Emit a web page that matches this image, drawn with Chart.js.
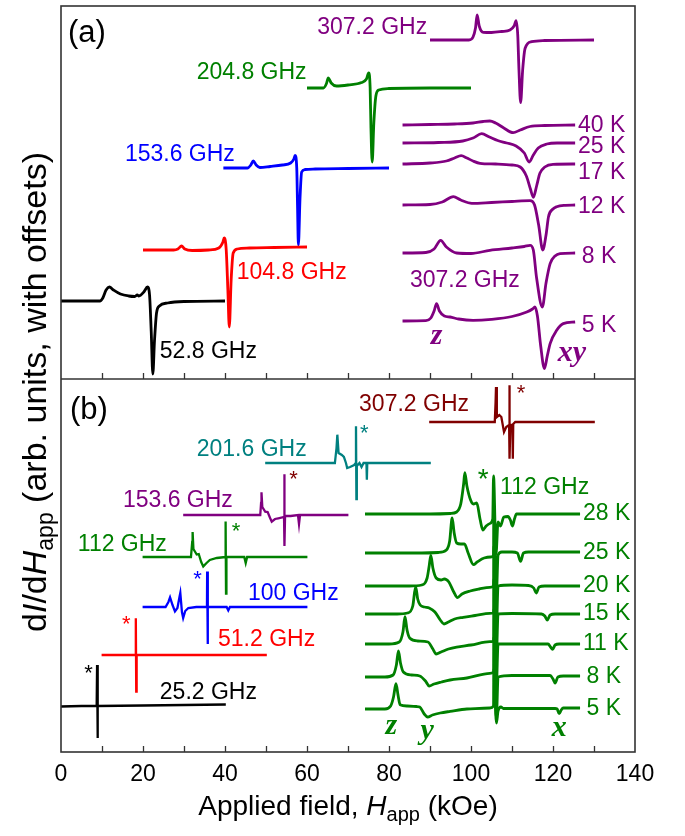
<!DOCTYPE html>
<html>
<head>
<meta charset="utf-8">
<script src="https://cdn.jsdelivr.net/npm/chart.js@4.4.1/dist/chart.umd.min.js"></script>
<style>
  html, body { margin: 0; padding: 0; background: #fff; }
  canvas { display: block; }
</style>
</head>
<body>
<canvas id="esr" width="685" height="836"></canvas>
<script>
// field axis in kOe, intensity in arbitrary units (spectra stacked with offsets)
// panel (a) occupies y 373..746, panel (b) y 0..373

// ---- panel (a): frequency series ----
const freqA = ['52.8 GHz', '104.8 GHz', '153.6 GHz', '204.8 GHz', '307.2 GHz'];
const offsetA = [451, 502, 584, 664, 712];
const specA_52 = [[0,0],[9.5,0],[10.2,3],[11,11],[11.8,14],[12.8,11],[14.5,7],[16.5,5],[18,4.5],[18.6,6],[19,5],[20.2,9],[21.1,14],[21.6,6],[22,-30],[22.4,-73],[22.8,-40],[23.3,-12],[24,-5],[26,-2],[30,-0.5],[40,0]];
const specA_104 = [[20,0],[27.5,0],[28.5,1],[29.4,4],[30.2,1],[32,-0.5],[36,0],[38.5,2],[39.5,8],[39.8,12],[40.3,0],[40.7,-40],[41.05,-77],[41.5,-30],[42,-3],[43,1],[46,2],[52,2.5],[60,3]];
const specA_153 = [[39.6,0],[45.5,0],[46.3,3],[46.9,7],[47.6,3],[48.5,0.5],[51,1.5],[54,3],[56,5],[56.8,9],[57.1,12.7],[57.5,0],[57.7,-40],[57.9,-77],[58.3,-30],[58.7,-4],[59.5,-1.5],[62,-1],[70,-0.5],[80,0]];
const specA_204 = [[60,0],[64,0],[64.7,4],[65.2,10],[65.9,5],[67.2,2],[70,3],[73.3,5.4],[74.5,9],[75.05,15],[75.4,0],[75.6,-40],[75.9,-74],[76.3,-35],[76.8,-8],[77.5,-2],[80,-0.5],[90,0],[100,0]];
const specA_307 = [[90,0],[99.5,0],[100.5,3],[101.1,12],[101.5,25],[102,14],[103,7.7],[105,7.5],[107.5,8.5],[109.5,10],[110.5,14],[111,19.3],[111.4,5],[111.7,-30],[112.1,-62.7],[112.6,-30],[113.2,-8.3],[114.8,-1.7],[118,-0.5],[130,0]];

// ---- panel (a): 307.2 GHz temperature series ----
const tempA = ['5 K', '8 K', '12 K', '17 K', '25 K', '40 K'];
const offsetTA = [431, 499, 547, 588, 609, 627];
const specTA_5 = [[83.3,0],[89,0.3],[90.2,3],[91,10],[91.6,17.4],[92.3,10],[93.5,5],[94.9,4],[97,2],[100.5,0.7],[105,1.7],[110,4.5],[113.6,9],[115,12],[115.6,14],[116.2,5],[117,-25],[117.9,-47.6],[118.6,-35],[119.3,-22.6],[120.9,-9.3],[122.5,-2.6],[125.4,-1]];
const specTA_8 = [[83.3,0],[89,0.5],[91,4],[92.6,12.7],[94,6],[96.5,0],[100,-0.5],[104.6,2.7],[110,5],[113,6.5],[114.4,7.7],[115.2,3],[116,-25],[117.4,-54],[118.3,-30],[119.3,-10.6],[120.5,-3],[121.7,-0.6],[125.4,0]];
const specTA_12 = [[83.3,0],[90,0.5],[93,3],[95.7,8.3],[97.5,5],[100.2,1.7],[105,2.5],[110,3.5],[114.4,4.3],[115.5,0],[116.5,-20],[117.5,-45],[118.3,-30],[118.9,-11.7],[120,-4],[120.9,-1.7],[123,-0.3],[125.4,0]];
const specTA_17 = [[83.3,0],[90,1],[94,3],[96,6],[97.6,8.3],[99,6],[100.5,3],[102.2,0.7],[106,0],[110,-1],[112,-3],[113.5,-12],[114.5,-25],[115.2,-33.3],[116,-22],[116.8,-9.3],[118,-3],[120,-0.3],[125.4,0]];
const specTA_25 = [[83.3,0],[92,0.5],[98,2],[100.5,5],[102.6,9.3],[104.5,6],[106.5,2.5],[108.7,0],[111,-3],[113,-10],[114.2,-19],[115.2,-12],[116.4,-5],[118.5,-1],[121,0],[125.4,0]];
const specTA_40 = [[83.3,0],[90,0.5],[96,1],[100.5,2],[103,3.5],[104.6,4],[106,2],[108,-3],[110.3,-7.7],[112,-5],[114.4,-1.5],[118,-0.5],[125.4,0]];

// ---- panel (b): frequency series ----
const freqB = ['25.2 GHz', '51.2 GHz', '100 GHz', '112 GHz', '153.6 GHz', '201.6 GHz', '307.2 GHz'];
const offsetB = [46, 97, 145, 195, 237, 289, 330];
const specB_25 = [[0,-0.5],[5,0],[8.7,0],[8.8,41],[8.9,-32],[9.0,0],[20,0.5],[30,1],[40.2,1.5]];
const specB_51 = [[9.9,0],[18.2,0],[18.25,36.7],[18.35,-36.7],[18.45,0],[30,0],[50.2,0]];
const specB_100 = [[19.9,0],[25.5,0],[26.2,5],[26.6,9.6],[27.2,2],[27.8,-4.4],[28.4,-1],[28.9,10],[29.1,14],[29.5,-5],[29.8,-11],[30.3,-4],[31.05,-1],[33,0],[35.6,0],[35.65,35.6],[35.75,-37],[35.85,0],[40.4,0],[40.8,-3.4],[41.2,0],[60.1,0]];
const specB_112 = [[19.9,0],[31.7,0],[32.0,15],[32.1,25],[32.3,8],[33.1,2.5],[33.6,3],[34.2,-5],[34.7,-9.4],[35.5,-6],[36.3,-3],[38,-1],[40.1,0],[40.15,35.6],[40.25,-36.7],[40.35,0],[44.7,0],[45.05,-6],[45.4,0],[60.1,0]];
const specB_153 = [[29.8,0],[48.6,0],[48.8,12],[48.9,22.7],[49.1,8],[49.8,3.3],[50.4,3],[51,-3],[51.4,-6.7],[52.2,-4],[53,-3.3],[54.4,-2],[54.45,40.7],[54.55,-31],[54.65,-1],[56,-1],[57.8,0],[58.05,-9],[58.3,0],[70.1,0]];
const specB_201 = [[49.8,0],[66.8,0],[67.2,15],[67.4,28.3],[67.7,10],[68.5,8],[69,6],[69.5,0],[69.8,-5],[70.5,-4],[71.5,-2],[71.9,0],[71.95,36.7],[72.05,-36],[72.15,-3],[72.8,0],[73.3,-4],[73.8,0],[74.5,0],[74.6,-16.7],[74.7,0],[90.2,0]];
const specB_307 = [[89.8,0],[105.8,0],[106.0,20],[106.1,35],[106.3,5],[106.9,7],[107.4,5],[108.05,-10],[108.6,-5],[109.3,-3],[109.35,36.7],[109.45,-36.7],[109.6,-3],[110.1,-3],[110.2,-36.7],[110.3,-2],[110.8,0],[130.2,0]];

// ---- panel (b): 112 GHz temperature series ----
const tempB = ['5 K', '8 K', '11 K', '15 K', '20 K', '25 K', '28 K'];
const offsetTB = [43, 75, 108, 138, 166, 199, 238];
const specTB_5 = [[74.15,0],[79,0],[80.4,3],[81.1,12],[81.7,25.3],[82.2,14],[82.7,4.3],[84.5,3],[86.7,2.5],[87.5,2],[88.6,-5],[89.4,-8],[90.6,-6],[92.5,-4],[94.9,-2.4],[99,0],[104.6,1],[105.5,3],[105.55,40],[106.2,-14],[106.6,-2],[107.3,2],[107.9,0.5],[110,0.5],[120.5,0.5],[121,0],[121.5,-4.7],[122,-1],[122.5,1],[126.6,1]];
const specTB_8 = [[74.15,0],[79,0],[81,2],[81.8,12],[82.3,26],[82.8,14],[83.5,5],[85.5,2],[87.5,1],[88.9,-4],[89.8,-9],[91,-7],[92.8,-5],[94.9,-3],[99,-1],[104.6,3.7],[105.5,5],[105.55,40],[106.2,-40],[106.6,0],[110,1.5],[119.3,1.5],[120,-2],[120.5,-6],[121.2,0],[122.5,1],[126.6,1]];
const specTB_11 = [[74.15,0],[80,0],[82.5,2],[83.4,12],[83.9,27.3],[84.4,14],[85.1,5.7],[87,3],[89.5,2],[90.7,-5],[91.5,-10],[92.7,-8],[94.5,-5],[96.5,-3],[100,-1],[104.6,2.3],[105.5,3],[105.55,35],[106.2,-40],[106.6,0],[110,0],[118.8,0],[119.4,-3],[119.9,-5.3],[120.5,-1],[121.5,0],[126.6,0]];
const specTB_15 = [[74.15,0],[82,0],[84.5,1],[85.8,8],[86.5,27.3],[87,15],[87.6,9],[88.7,7],[89.8,6],[91.2,2],[92.5,-6],[93.4,-10],[94.5,-8],[96,-5],[98.1,-3.3],[101,-1.5],[104.6,0.7],[105.5,1],[105.55,35],[106.2,-40],[106.6,0],[110,0.5],[117.2,0],[118,-2],[118.6,-6],[119.3,-1],[120.5,0],[126.6,0]];
const specTB_20 = [[74.15,0],[85,0],[88,1],[89.3,8],[89.8,20],[90.2,30.7],[90.7,18],[91.5,8],[92.7,6],[93.5,7],[94.6,4],[95.8,-6],[96.7,-11.6],[97.8,-8],[99.8,-5],[102,-3],[104.6,-1.3],[105.5,0],[105.55,40],[106.2,-40],[106.6,0],[110,1],[114,0.5],[115.3,-2],[115.9,-7],[116.6,-1],[118,0],[126.6,0]];
const specTB_25 = [[74.15,0],[88,0],[92,0.5],[94,3],[94.8,12],[95.4,35],[95.9,20],[96.5,10],[97.5,9],[98.4,9],[99.3,0],[100.6,-11.7],[101.5,-9],[103.2,-5],[104.8,-4],[105.5,-2],[105.55,40],[106.2,-40],[106.6,-2],[107.5,1],[110,1],[111.3,0],[112.1,-8.4],[112.8,0],[114,1],[126.6,1]];
const specTB_28 = [[74.15,0],[90,0],[95,0.5],[96.5,2],[97.5,10],[98.2,30],[98.5,41.3],[99,28],[99.9,14],[100.6,10],[101.4,11],[102.2,-5],[102.9,-16],[103.7,-12],[104.6,-9.5],[105.3,-5],[105.5,38],[106.1,-40],[106.6,-8],[107.2,-12],[108,-3],[109,-2.5],[109.6,-6],[110.1,-12],[110.6,-5],[111.1,0],[115,0],[126.6,0]];

const fieldTicks = [0, 20, 40, 60, 80, 100, 120, 140];
const PANEL_SPLIT = 373;

// ---- build datasets ----
const shift = (pts, off) => pts.map(p => ({ x: p[0], y: p[1] + off }));

const seriesColors = {
  black: '#000000', red: '#ff0000', blue: '#0000ff', green: '#008000',
  purple: '#800080', teal: '#008080', maroon: '#800000'
};

function lineSet(label, pts, off, color, smooth, width) {
  return {
    label: label,
    data: shift(pts, off),
    borderColor: color,
    borderWidth: width,
    pointRadius: 0,
    fill: false,
    cubicInterpolationMode: smooth ? 'monotone' : 'default',
    tension: 0
  };
}

const datasets = [];
const specA = [specA_52, specA_104, specA_153, specA_204, specA_307];
const colA = ['black', 'red', 'blue', 'green', 'purple'];
specA.forEach((s, i) => datasets.push(lineSet('(a) ' + freqA[i], s, offsetA[i], seriesColors[colA[i]], true, 2.8)));
const specTA = [specTA_5, specTA_8, specTA_12, specTA_17, specTA_25, specTA_40];
specTA.forEach((s, i) => datasets.push(lineSet('(a) 307.2 GHz ' + tempA[i], s, offsetTA[i], seriesColors.purple, true, 2.8)));
const specB = [specB_25, specB_51, specB_100, specB_112, specB_153, specB_201, specB_307];
const colB = ['black', 'red', 'blue', 'green', 'purple', 'teal', 'maroon'];
specB.forEach((s, i) => datasets.push(lineSet('(b) ' + freqB[i], s, offsetB[i], seriesColors[colB[i]], false, 2.3)));
const specTB = [specTB_5, specTB_8, specTB_11, specTB_15, specTB_20, specTB_25, specTB_28];
specTB.forEach((s, i) => datasets.push(lineSet('(b) 112 GHz ' + tempB[i], s, offsetTB[i], seriesColors.green, true, 2.8)));

// ---- text annotations (field kOe, intensity arb.) ----
const SANS = '23px "Liberation Sans", Arial, sans-serif';
const STAR = '22px "Liberation Sans", Arial, sans-serif';
const PANEL = '31px "Liberation Sans", Arial, sans-serif';
const AXLET = 'italic bold 30px "Liberation Serif", "Times New Roman", serif';
const notes = [
  ['(a)', 1.7, 719, 'black', 'left', PANEL],
  ['307.2 GHz', 89.3, 724, 'purple', 'right', SANS],
  ['204.8 GHz', 59.9, 679, 'green', 'right', SANS],
  ['153.6 GHz', 42.4, 597, 'blue', 'right', SANS],
  ['104.8 GHz', 42.85, 479, 'red', 'left', SANS],
  ['52.8 GHz', 24.1, 400, 'black', 'left', SANS],
  ['40 K', 126.1, 626.5, 'purple', 'left', SANS],
  ['25 K', 126.1, 605, 'purple', 'left', SANS],
  ['17 K', 126.1, 579, 'purple', 'left', SANS],
  ['12 K', 126.1, 545, 'purple', 'left', SANS],
  ['8 K', 127, 495, 'purple', 'left', SANS],
  ['5 K', 127, 426, 'purple', 'left', SANS],
  ['307.2 GHz', 85.1, 471, 'purple', 'left', SANS],
  ['z', 91.6, 416, 'purple', 'center', AXLET],
  ['xy', 124.6, 399, 'purple', 'center', AXLET],
  ['(b)', 2.2, 342, 'black', 'left', PANEL],
  ['307.2 GHz', 72.7, 347, 'maroon', 'left', SANS],
  ['*', 112.2, 358, 'maroon', 'center', STAR],
  ['201.6 GHz', 33.1, 302, 'teal', 'left', SANS],
  ['*', 74, 318, 'teal', 'center', STAR],
  ['153.6 GHz', 15.1, 251, 'purple', 'left', SANS],
  ['*', 56.7, 272, 'maroon', 'center', STAR],
  ['112 GHz', 4.1, 207, 'green', 'left', SANS],
  ['*', 42.7, 220, 'green', 'center', STAR],
  ['100 GHz', 45.6, 158, 'blue', 'left', SANS],
  ['*', 33.3, 172, 'blue', 'center', STAR],
  ['51.2 GHz', 38.3, 112, 'red', 'left', SANS],
  ['*', 15.9, 127, 'red', 'center', STAR],
  ['25.2 GHz', 24.1, 59, 'black', 'left', SANS],
  ['*', 6.7, 78, 'black', 'center', STAR],
  ['*', 103, 272, 'green', 'center', '28px "Liberation Sans", Arial, sans-serif'],
  ['112 GHz', 107.1, 264, 'green', 'left', SANS],
  ['28 K', 127.3, 238, 'green', 'left', SANS],
  ['25 K', 127.3, 199, 'green', 'left', SANS],
  ['20 K', 127.3, 166, 'green', 'left', SANS],
  ['15 K', 127.3, 138, 'green', 'left', SANS],
  ['11 K', 127.3, 108, 'green', 'left', SANS],
  ['8 K', 128.2, 75, 'green', 'left', SANS],
  ['5 K', 128.2, 43, 'green', 'left', SANS],
  ['z', 80.6, 26, 'green', 'center', AXLET],
  ['y', 89.3, 21, 'green', 'center', AXLET],
  ['x', 121.5, 24, 'green', 'center', AXLET]
];

function drawRich(ctx, parts, x, y) {
  let total = 0;
  parts.forEach(p => { ctx.font = p.f; total += ctx.measureText(p.t).width; });
  let cx = x - total / 2;
  parts.forEach(p => {
    ctx.font = p.f;
    ctx.fillText(p.t, cx, y + (p.dy || 0));
    cx += ctx.measureText(p.t).width;
  });
}

const decorations = {
  id: 'decorations',
  afterDatasetsDraw(chart) {
    const { ctx, chartArea: ca, scales: { x, y } } = chart;
    const mid = y.getPixelForValue(PANEL_SPLIT);
    ctx.save();
    // frames
    ctx.strokeStyle = '#333';
    ctx.lineWidth = 1.6;
    ctx.strokeRect(ca.left, ca.top, ca.right - ca.left, ca.bottom - ca.top);
    ctx.beginPath();
    ctx.moveTo(ca.left, mid);
    ctx.lineTo(ca.right, mid);
    ctx.stroke();
    // inward tick marks on the bottom of each panel
    ctx.lineWidth = 1.3;
    for (let v = 10; v < 140; v += 10) {
      const px = Math.round(x.getPixelForValue(v)) + 0.5;
      [mid, ca.bottom].forEach(py => {
        ctx.beginPath();
        ctx.moveTo(px, py);
        ctx.lineTo(px, py - 6);
        ctx.stroke();
      });
    }
    // labels
    ctx.textBaseline = 'middle';
    notes.forEach(n => {
      ctx.fillStyle = seriesColors[n[3]];
      ctx.font = n[5];
      ctx.textAlign = n[4];
      ctx.fillText(n[0], x.getPixelForValue(n[1]), y.getPixelForValue(n[2]));
    });
    // axis titles
    ctx.fillStyle = '#000';
    ctx.textAlign = 'left';
    ctx.textBaseline = 'alphabetic';
    const xf = '28px "Liberation Sans", Arial, sans-serif';
    const xfi = 'italic ' + xf;
    const xfs = '20px "Liberation Sans", Arial, sans-serif';
    drawRich(ctx, [
      { t: 'Applied field, ', f: xf },
      { t: 'H', f: xfi },
      { t: 'app', f: xfs, dy: 6 },
      { t: ' (kOe)', f: xf }
    ], (ca.left + ca.right) / 2, 815);
    const yf = '34px "Liberation Sans", Arial, sans-serif';
    const yfi = 'italic ' + yf;
    const yfs = '23px "Liberation Sans", Arial, sans-serif';
    ctx.translate(46, 392);
    ctx.rotate(-Math.PI / 2);
    drawRich(ctx, [
      { t: 'd', f: yf },
      { t: 'I', f: yfi },
      { t: '/d', f: yf },
      { t: 'H', f: yfi },
      { t: 'app', f: yfs, dy: 7 },
      { t: ' (arb. units, with offsets)', f: yf }
    ], 0, 0);
    ctx.restore();
  }
};

new Chart(document.getElementById('esr').getContext('2d'), {
  type: 'line',
  data: { datasets: datasets },
  options: {
    responsive: false,
    devicePixelRatio: 1,
    animation: false,
    events: [],
    layout: { padding: { left: 61, right: 50, top: 6, bottom: 48 } },
    plugins: { legend: { display: false }, tooltip: { enabled: false } },
    scales: {
      x: {
        type: 'linear',
        min: 0,
        max: 140,
        afterBuildTicks: s => { s.ticks = fieldTicks.map(v => ({ value: v })); },
        afterFit: s => { s.height = 36; },
        grid: { display: false, drawTicks: false },
        border: { display: false },
        ticks: {
          padding: 9,
          color: '#000',
          font: { family: '"Liberation Sans", Arial, sans-serif', size: 23 }
        }
      },
      y: {
        type: 'linear',
        min: 0,
        max: 746,
        display: false
      }
    }
  },
  plugins: [decorations]
});
</script>
</body>
</html>
